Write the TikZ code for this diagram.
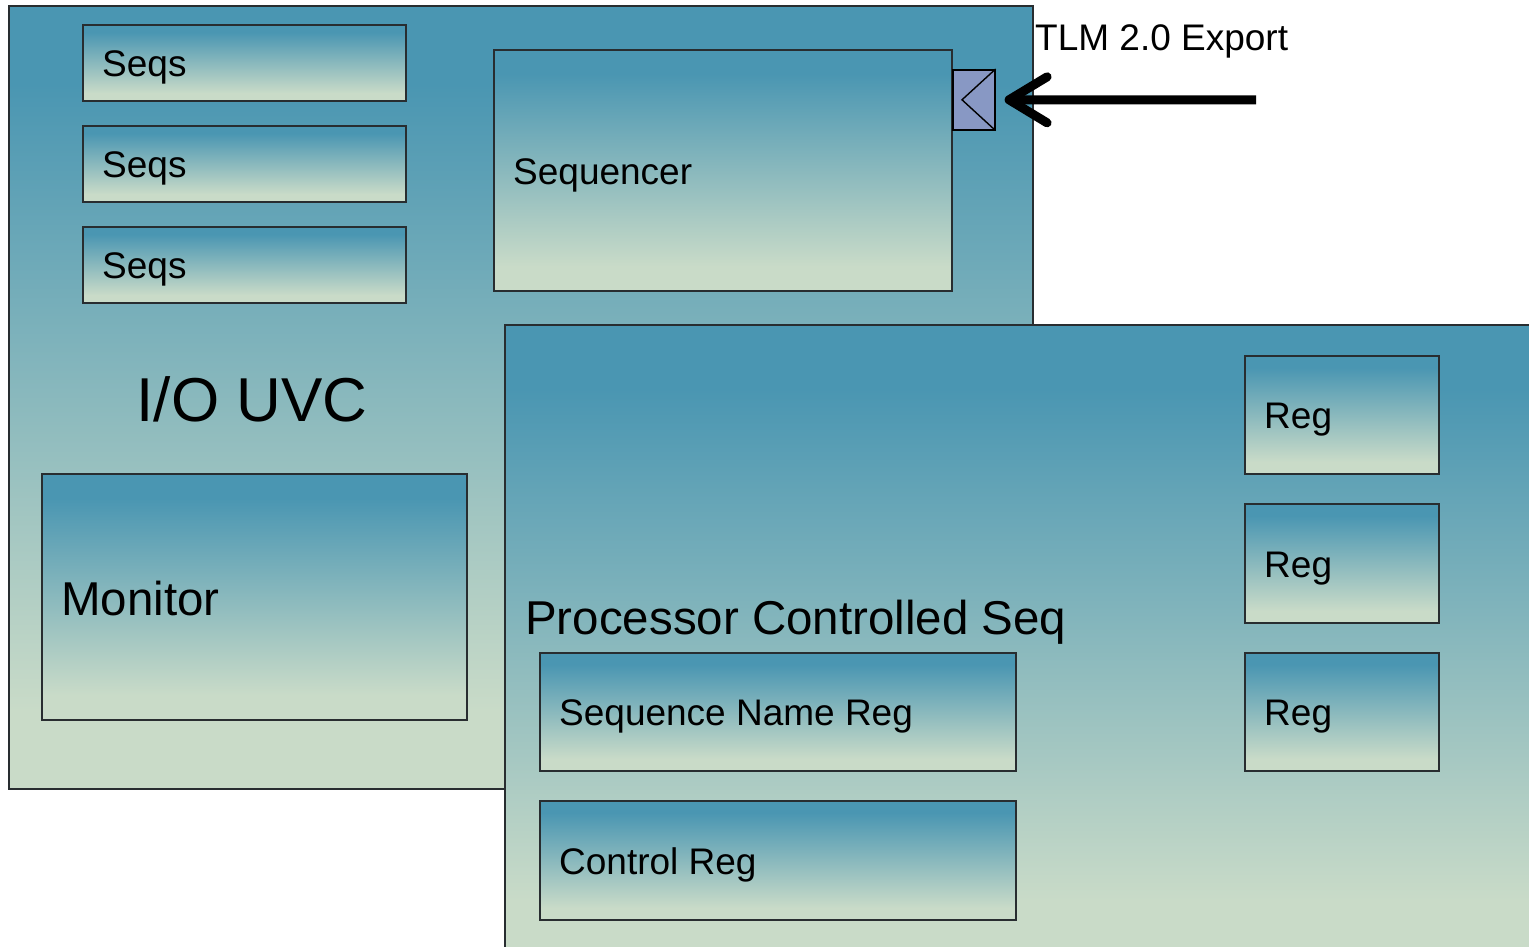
\documentclass[tikz,border=0pt]{standalone}
\usepackage{fontspec}
\setmainfont{Liberation Sans}
\usetikzlibrary{arrows.meta}

\definecolor{uvcblue}{RGB}{74,150,178}
\definecolor{uvcpale}{RGB}{201,219,200}
\definecolor{portfill}{RGB}{136,152,196}
\definecolor{edge}{RGB}{40,45,48}

% blue at the top, pale green at the bottom
\pgfdeclareverticalshading{panel}{100bp}{color(0bp)=(uvcpale); color(30bp)=(uvcpale); color(70bp)=(uvcblue); color(100bp)=(uvcblue)}

\tikzset{
  panel/.style={shade, shading=panel, draw=edge, line width=1.6pt},
  blk/.style={panel, anchor=north west, inner sep=0pt},
  small/.style={font=\fontsize{37}{40}\selectfont},
  mid/.style={font=\fontsize{47.5}{50}\selectfont},
  big/.style={font=\fontsize{62}{66}\selectfont},
  lbl/.style={inner sep=0pt},
  % caption set on the baseline, left inside a box
  boxcap/.style={lbl, small, anchor=base west, shift={(20,14)}},
  boxcapbig/.style={lbl, mid, anchor=base west, shift={(20,19)}},
}

\begin{document}
\begin{tikzpicture}[x=1pt,y=-1pt]
\useasboundingbox (0,0) rectangle (1529,947);
\clip (0,0) rectangle (1529,947);

% I/O UVC container
\node[panel, anchor=north west, minimum width=1024pt, minimum height=783pt, inner sep=0pt] (uvc) at (8,5) {};
\node[lbl, big, anchor=base] (uvclabel) at (252,421) {I/O UVC};

% sequence libraries
\node[blk, minimum width=323pt, minimum height=76pt] (seqsA) at (82,24) {};
\node[boxcap] (seqsAt) at (seqsA.west) {Seqs};
\node[blk, minimum width=323pt, minimum height=76pt] (seqsB) at (82,125) {};
\node[boxcap] (seqsBt) at (seqsB.west) {Seqs};
\node[blk, minimum width=323pt, minimum height=76pt] (seqsC) at (82,226) {};
\node[boxcap] (seqsCt) at (seqsC.west) {Seqs};

% sequencer and monitor
\node[blk, minimum width=458pt, minimum height=241pt] (seqr) at (493,49) {};
\node[boxcap] (seqrt) at (seqr.west) {Sequencer};
\node[blk, minimum width=425pt, minimum height=246pt] (mon) at (41,473) {};
\node[boxcapbig] (mont) at (mon.west) {Monitor};

% TLM export port
\node[draw=black, fill=portfill, line width=1.6pt, anchor=north west, minimum width=42pt, minimum height=60pt, inner sep=0pt] (port) at (952,69) {};
\draw[line width=1.4pt] (port.north east) -- ([xshift=10pt]port.west) -- (port.south east);
\coordinate (tlmsrc) at (1256,100);
\draw[line width=9pt, -{Straight Barb[length=38pt, width=46pt, round]}] (tlmsrc) -- ([xshift=9pt]port.east);
\node[lbl, small, anchor=base west] (tlm) at (1035,51) {TLM 2.0 Export};

% processor controlled sequencer
\node[panel, anchor=north west, minimum width=1060pt, minimum height=640pt, inner sep=0pt] (pcs) at (504,324) {};
\node[lbl, mid, anchor=base west] (pcslabel) at (525,634) {Processor Controlled Seq};

\node[blk, minimum width=194pt, minimum height=118pt] (regA) at (1244,355) {};
\node[boxcap] (regAt) at (regA.west) {Reg};
\node[blk, minimum width=194pt, minimum height=119pt] (regB) at (1244,503) {};
\node[boxcap] (regBt) at (regB.west) {Reg};
\node[blk, minimum width=194pt, minimum height=118pt] (regC) at (1244,652) {};
\node[boxcap] (regCt) at (regC.west) {Reg};

\node[blk, minimum width=476pt, minimum height=118pt] (snreg) at (539,652) {};
\node[boxcap] (snregt) at (snreg.west) {Sequence Name Reg};
\node[blk, minimum width=476pt, minimum height=119pt] (ctlreg) at (539,800) {};
\node[boxcap] (ctlregt) at (ctlreg.west) {Control Reg};
\end{tikzpicture}
\end{document}
